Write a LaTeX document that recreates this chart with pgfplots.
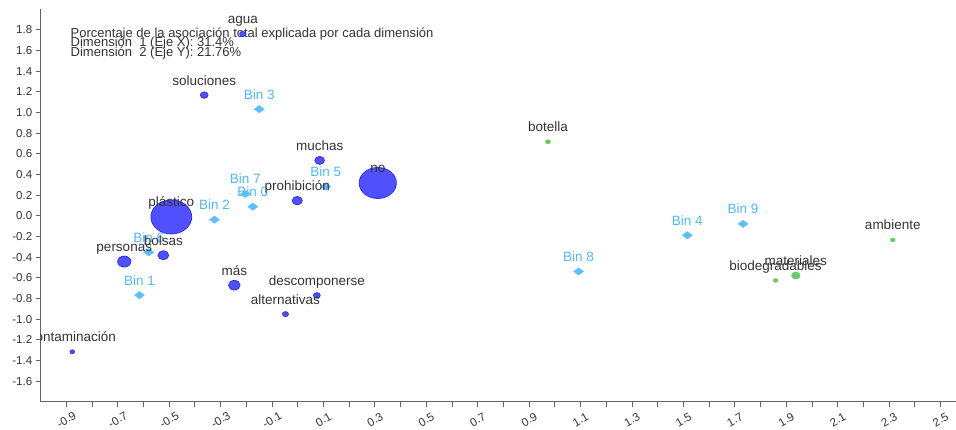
\documentclass[border=0pt]{standalone}
\usepackage{fontspec}
\setmainfont{Liberation Sans}
\usepackage{pgfplots}
\usepackage{pgfplotstable}
\pgfplotsset{compat=1.18}

\definecolor{circblue}{RGB}{80,80,255}
\definecolor{circedge}{RGB}{50,50,235}
\definecolor{binblue}{RGB}{90,192,255}
\definecolor{binlabel}{RGB}{77,184,255}
\definecolor{ptgreen}{RGB}{100,205,95}
\definecolor{labgray}{RGB}{51,51,51}
\definecolor{axgray}{RGB}{100,100,100}

\pgfplotstableread{
x y label
-0.175 0.089 {Bin 0}
-0.616 -0.768 {Bin 1}
-0.324 -0.037 {Bin 2}
-0.150 1.033 {Bin 3}
1.515 -0.188 {Bin 4}
0.109 0.282 {Bin 5}
-0.580 -0.353 {Bin 6}
-0.204 0.212 {Bin 7}
1.092 -0.539 {Bin 8}
1.732 -0.078 {Bin 9}
}\bins

\pgfplotsset{
  lbl/.style={
    every node near coord/.style={anchor=base, yshift=10bp, inner sep=0pt,
      font=\fontsize{13.5bp}{15bp}\selectfont, text=#1}
  },
  % circulo: radio vertical en bp
  palabra/.style={only marks, mark=*, mark size=#1,
    mark options={xscale=1.2, fill=circblue, draw=circedge, line width=0.8bp},
    point meta=explicit symbolic, nodes near coords, lbl=labgray},
  verde/.style={only marks, mark=*, mark size=#1,
    mark options={xscale=1.2, fill=ptgreen, draw=ptgreen},
    point meta=explicit symbolic, nodes near coords, lbl=labgray},
}

\begin{document}
\begin{tikzpicture}
\path[use as bounding box] (-40.7bp,-28.3bp) rectangle (915.3bp,401.7bp);
\begin{axis}[
  at={(0,0)}, anchor=south west,
  scale only axis, width=915.3bp, height=392.4bp,
  xmin=-1.0, xmax=2.56, ymin=-1.8, ymax=2.0,
  axis lines*=left,
  axis line style={axgray, line width=1.5bp},
  tick align=outside,
  major tick length=5bp, minor tick length=5bp,
  tick style={axgray, line width=1bp},
  xtick={-0.9,-0.7,-0.5,-0.3,-0.1,0.1,0.3,0.5,0.7,0.9,1.1,1.3,1.5,1.7,1.9,2.1,2.3,2.5},
  minor xtick={-0.8,-0.6,-0.4,-0.2,0,0.2,0.4,0.6,0.8,1.0,1.2,1.4,1.6,1.8,2.0,2.2,2.4},
  ytick={-1.6,-1.4,-1.2,-1.0,-0.8,-0.6,-0.4,-0.2,0,0.2,0.4,0.6,0.8,1.0,1.2,1.4,1.6,1.8},
  /pgf/number format/assume math mode=true,
  /pgf/number format/.cd, fixed, fixed zerofill, precision=1, /pgfplots/.cd,
  ticklabel style={font=\fontsize{11.5bp}{13bp}\selectfont, text=labgray},
  xticklabel style={yshift=-13bp, rotate=30, anchor=center},
]
% bins
\addplot[only marks, mark=diamond*, mark size=3.7bp,
  mark options={xscale=1.8, fill=binblue, draw=binblue},
  point meta=explicit symbolic, nodes near coords, lbl=binlabel]
  table[x=x, y=y, meta=label] {\bins};
% palabras
\addplot[palabra=2.6bp] coordinates {(-0.214,1.761) [agua]};
\addplot[palabra=3.2bp] coordinates {(-0.364,1.169) [soluciones]};
\addplot[palabra=4bp] coordinates {(0.085,0.537) [muchas]};
\addplot[palabra=15.5bp] coordinates {(0.311,0.318) [no]};
\addplot[palabra=4.2bp] coordinates {(-0.002,0.147) [prohibición]};
\addplot[palabra=17bp] coordinates {(-0.492,-0.011) [plástico]};
\addplot[palabra=5.5bp] coordinates {(-0.675,-0.443) [personas]};
\addplot[palabra=4.5bp] coordinates {(-0.523,-0.382) [bolsas]};
\addplot[palabra=4.8bp] coordinates {(-0.247,-0.672) [más]};
\addplot[palabra=2.8bp] coordinates {(0.074,-0.771) [descomponerse]};
\addplot[palabra=2.5bp] coordinates {(-0.048,-0.952) [alternativas]};
\addplot[palabra=1.9bp, clip marker paths=true] coordinates {(-0.877,-1.316) [contaminación]};
% verdes
\addplot[verde=2.1bp] coordinates {(0.973,0.717) [botella]};
\addplot[verde=2bp] coordinates {(2.314,-0.233) [ambiente]};
\addplot[verde=3.6bp] coordinates {(1.937,-0.578) [materiales]};
\addplot[verde=2bp] coordinates {(1.858,-0.626) [biodegradables]};

\node[anchor=base west, inner sep=0pt, text=labgray, font=\fontsize{13bp}{15bp}\selectfont]
  at (axis cs:-0.884,1.728) {Porcentaje de la asociación total explicada por cada dimensión};
\node[anchor=base west, inner sep=0pt, text=labgray, font=\fontsize{13bp}{15bp}\selectfont]
  at (axis cs:-0.884,1.636) {Dimensión~ 1 (Eje X): 31.4\%};
\node[anchor=base west, inner sep=0pt, text=labgray, font=\fontsize{13bp}{15bp}\selectfont]
  at (axis cs:-0.884,1.545) {Dimensión~ 2 (Eje Y): 21.76\%};
\end{axis}
\end{tikzpicture}
\end{document}
